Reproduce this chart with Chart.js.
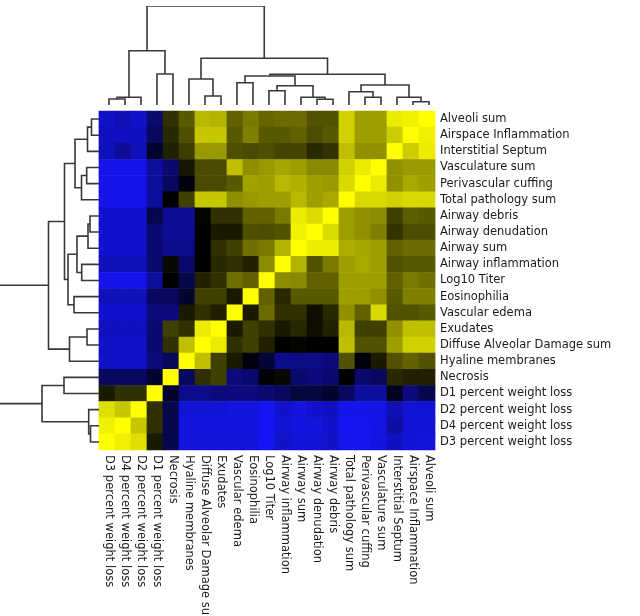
<!DOCTYPE html>
<html>
<head>
<meta charset="utf-8">
<script src="https://cdn.jsdelivr.net/npm/chart.js@4.4.0/dist/chart.umd.min.js"></script>
<style>
  body { margin: 0; background: #fff; }
  canvas { position: absolute; }
</style>
</head>
<body>
<canvas id="heat" width="640" height="616" style="left:0;top:0"></canvas>
<canvas id="topTree" width="337" height="108" style="left:101px;top:0"></canvas>
<canvas id="leftTree" width="99" height="339" style="left:0;top:111px"></canvas>
<script>
// column order, left to right (rows use the same list bottom to top)
const colLabels = [
  'D3 percent weight loss', 'D4 percent weight loss', 'D2 percent weight loss', 'D1 percent weight loss',
  'Necrosis', 'Hyaline membranes', 'Diffuse Alveolar Damage sum', 'Exudates', 'Vascular edema',
  'Eosinophilia', 'Log10 Titer', 'Airway inflammation', 'Airway sum', 'Airway denudation',
  'Airway debris', 'Total pathology sum', 'Perivascular cuffing', 'Vasculature sum',
  'Interstitial Septum', 'Airspace Inflammation', 'Alveoli sum'
];
const rowLabels = colLabels.slice().reverse();

// correlations, one row per row label (top to bottom), columns as colLabels
const corr = [
  [-0.80,-0.72,-0.80,-0.45, 0.19, 0.35, 0.72, 0.70, 0.38, 0.48, 0.40, 0.42, 0.42, 0.32, 0.32, 0.82, 0.62, 0.62, 0.92, 0.94, 1.00],
  [-0.78,-0.78,-0.78,-0.38, 0.16, 0.31, 0.78, 0.78, 0.35, 0.50, 0.35, 0.35, 0.38, 0.30, 0.35, 0.82, 0.62, 0.62, 0.80, 1.00, 0.94],
  [-0.75,-0.60,-0.75,-0.19, 0.13, 0.24, 0.60, 0.60, 0.31, 0.29, 0.31, 0.27, 0.27, 0.16, 0.20, 0.75, 0.57, 0.57, 1.00, 0.80, 0.92],
  [-0.94,-0.94,-0.94,-0.63,-0.44, 0.09, 0.29, 0.29, 0.75, 0.56, 0.60, 0.65, 0.62, 0.54, 0.54, 0.82, 0.92, 1.00, 0.57, 0.60, 0.60],
  [-0.94,-0.94,-0.94,-0.63,-0.38,-0.06, 0.29, 0.29, 0.35, 0.63, 0.62, 0.72, 0.69, 0.62, 0.60, 0.85, 1.00, 0.92, 0.57, 0.66, 0.62],
  [-0.94,-0.94,-0.94,-0.63, 0.00, 0.25, 0.78, 0.78, 0.56, 0.60, 0.62, 0.62, 0.72, 0.62, 0.66, 1.00, 0.85, 0.85, 0.82, 0.85, 0.85],
  [-0.82,-0.82,-0.82,-0.31,-0.60,-0.60, 0.02, 0.19, 0.19, 0.38, 0.38, 0.48, 0.92, 0.86, 1.00, 0.62, 0.57, 0.55, 0.25, 0.36, 0.35],
  [-0.82,-0.82,-0.82,-0.44,-0.60,-0.60, 0.00, 0.10, 0.10, 0.31, 0.30, 0.32, 0.95, 1.00, 0.86, 0.62, 0.57, 0.50, 0.20, 0.30, 0.30],
  [-0.82,-0.82,-0.82,-0.44,-0.56,-0.56, 0.00, 0.19, 0.25, 0.44, 0.48, 0.70, 1.00, 0.93, 0.93, 0.68, 0.65, 0.62, 0.38, 0.42, 0.42],
  [-0.75,-0.75,-0.75,-0.44, 0.04,-0.44, 0.00, 0.16, 0.19, 0.13, 0.55, 1.00, 0.70, 0.32, 0.48, 0.62, 0.66, 0.62, 0.32, 0.35, 0.35],
  [-0.94,-0.94,-0.94,-0.63, 0.00,-0.30, 0.13, 0.19, 0.44, 0.38, 1.00, 0.55, 0.54, 0.38, 0.38, 0.62, 0.62, 0.62, 0.38, 0.48, 0.44],
  [-0.75,-0.75,-0.75,-0.40,-0.38,-0.19, 0.25, 0.25, 0.10, 1.00, 0.38, 0.16, 0.35, 0.35, 0.35, 0.62, 0.62, 0.57, 0.35, 0.50, 0.50],
  [-0.82,-0.82,-0.82,-0.50,-0.50, 0.10, 0.19, 0.12, 1.00, 0.10, 0.42, 0.19, 0.19, 0.06, 0.16, 0.57, 0.38, 0.85, 0.32, 0.32, 0.35],
  [-0.78,-0.78,-0.78,-0.44, 0.25, 0.19, 0.92, 1.00, 0.10, 0.25, 0.19, 0.10, 0.16, 0.06, 0.13, 0.72, 0.25, 0.25, 0.57, 0.75, 0.75],
  [-0.80,-0.80,-0.80,-0.44, 0.19, 0.75, 1.00, 0.92, 0.19, 0.25, 0.13, 0.00, 0.02, 0.00, 0.00, 0.75, 0.32, 0.32, 0.62, 0.82, 0.82],
  [-0.80,-0.80,-0.80,-0.50,-0.38, 1.00, 0.75, 0.25, 0.10,-0.05,-0.22,-0.56,-0.53,-0.53,-0.50, 0.32,-0.05, 0.10, 0.32, 0.38, 0.32],
  [-0.38,-0.38,-0.38,-0.19, 1.00,-0.38, 0.19, 0.25,-0.50,-0.44,-0.04, 0.03,-0.44,-0.50,-0.44, 0.00,-0.44,-0.38, 0.16, 0.13, 0.13],
  [ 0.10, 0.19, 0.19, 1.00,-0.19,-0.55,-0.55,-0.50,-0.50,-0.50,-0.45,-0.38,-0.25,-0.25,-0.19,-0.38,-0.63,-0.63,-0.12,-0.50,-0.31],
  [ 0.88, 0.78, 1.00, 0.19,-0.31,-0.85,-0.85,-0.85,-0.90,-0.90,-0.97,-0.82,-0.88,-0.82,-0.78,-0.94,-0.94,-0.91,-0.72,-0.85,-0.85],
  [ 0.94, 1.00, 0.78, 0.19,-0.31,-0.90,-0.90,-0.90,-0.90,-0.90,-0.97,-0.85,-0.90,-0.88,-0.82,-0.97,-0.95,-0.92,-0.65,-0.85,-0.85],
  [ 1.00, 0.94, 0.88, 0.10,-0.31,-0.88,-0.88,-0.88,-0.88,-0.88,-0.97,-0.80,-0.85,-0.85,-0.80,-0.95,-0.95,-0.90,-0.78,-0.85,-0.88]
];

// dendrogram merges: [child a, child b, height]; leaves 0..20, new clusters numbered from 21
const colLinks = [
  [0, 1, 6], [21, 2, 7.7], [3, 4, 31], [22, 23, 54.3],
  [6, 7, 9], [5, 25, 26], [8, 9, 22.3], [10, 11, 14.3],
  [13, 14, 5.7], [12, 29, 7.7], [28, 30, 19.3], [27, 31, 29],
  [16, 17, 7.7], [15, 33, 13.3], [19, 20, 3.3], [18, 35, 7.7],
  [34, 36, 20], [32, 37, 30.7], [26, 38, 46.7], [24, 39, 99]
];
const rowLinks = [
  [0, 1, 7.5], [21, 2, 11.5], [3, 4, 12.3], [23, 5, 17.5],
  [22, 24, 24], [6, 7, 9], [26, 8, 11], [9, 10, 17.3],
  [27, 28, 22], [11, 12, 25], [29, 30, 31], [25, 31, 34.5],
  [13, 14, 12], [33, 15, 29.5], [32, 34, 50.5], [16, 17, 35],
  [19, 20, 8.5], [18, 37, 10.3], [36, 38, 57], [35, 39, 115]
];

function cellColor(v) {
  if (v >= 0) {
    const c = Math.round(255 * v);
    return 'rgb(' + c + ',' + c + ',0)';
  }
  const b = Math.round(-250 * v), rg = Math.round(-22 * v);
  return 'rgb(' + rg + ',' + rg + ',' + b + ')';
}

let cells = [];
rowLabels.forEach((row, r) => {
  colLabels.forEach((col, c) => {
    cells.push({x: col, y: row, v: corr[r][c]});
  });
});

// labels on the right and rotated labels under the grid
const labelPlugin = {
  id: 'gridLabels',
  afterDraw(chart) {
    const ctx = chart.ctx, area = chart.chartArea;
    ctx.save();
    ctx.font = '11.5px "DejaVu Sans"';
    ctx.fillStyle = '#1a1a1a';
    ctx.textAlign = 'left';
    ctx.textBaseline = 'middle';
    rowLabels.forEach((lab, i) => {
      ctx.fillText(lab, area.right + 5, chart.scales.y.getPixelForValue(i));
    });
    colLabels.forEach((lab, i) => {
      ctx.save();
      ctx.translate(chart.scales.x.getPixelForValue(i) + 2, area.bottom + 5);
      ctx.rotate(Math.PI / 2);
      ctx.fillText(lab, 0, 0);
      ctx.restore();
    });
    ctx.restore();
  }
};

new Chart(document.getElementById('heat'), {
  type: 'scatter',
  data: {
    datasets: [{
      data: cells,
      pointStyle: 'rect',
      pointBorderWidth: 0,
      pointBackgroundColor: ctx => cellColor(ctx.raw.v),
      pointBorderColor: ctx => cellColor(ctx.raw.v),
      pointRadius: ctx => {
        const a = ctx.chart.chartArea;
        if (!a) return 0;
        const side = Math.max((a.right - a.left) / colLabels.length, (a.bottom - a.top) / rowLabels.length);
        return (side + 0.6) / Math.SQRT2;
      }
    }]
  },
  options: {
    responsive: false,
    animation: false,
    events: [],
    layout: {padding: {left: 99, top: 111, right: 205, bottom: 166}},
    scales: {
      x: {type: 'category', labels: colLabels, offset: true, display: false},
      y: {type: 'category', labels: rowLabels, offset: true, display: false}
    },
    plugins: {legend: {display: false}, tooltip: {enabled: false}}
  },
  plugins: [labelPlugin]
});

function treeShapes(links, n) {
  const pos = [], hgt = [];
  for (let i = 0; i < n; i++) { pos.push(i + 0.5); hgt.push(0); }
  return links.map(([a, b, h]) => {
    pos.push((pos[a] + pos[b]) / 2);
    hgt.push(h);
    return [[pos[a], hgt[a]], [pos[a], h], [pos[b], h], [pos[b], hgt[b]]];
  });
}

function treeChart(id, links, vertical) {
  const shapes = treeShapes(links, colLabels.length);
  const datasets = shapes.map(s => ({
    data: s.map(p => vertical ? {x: p[0], y: p[1]} : {x: p[1], y: p[0]}),
    showLine: true,
    pointRadius: 0,
    borderColor: '#383838',
    borderWidth: 1.6,
    tension: 0
  }));
  const posScale = {type: 'linear', min: 0, max: colLabels.length, display: false};
  const hScale = {type: 'linear', min: 0, max: 99, display: false};
  new Chart(document.getElementById(id), {
    type: 'scatter',
    data: {datasets: datasets},
    options: {
      responsive: false,
      animation: false,
      events: [],
      layout: {padding: vertical ? {top: 6, bottom: 3, left: 0, right: 1} : 0},
      scales: vertical
        ? {x: posScale, y: hScale}
        : {x: Object.assign({}, hScale, {reverse: true}), y: Object.assign({}, posScale, {reverse: true})},
      plugins: {legend: {display: false}, tooltip: {enabled: false}}
    }
  });
}

treeChart('topTree', colLinks, true);
treeChart('leftTree', rowLinks, false);
</script>
</body>
</html>
